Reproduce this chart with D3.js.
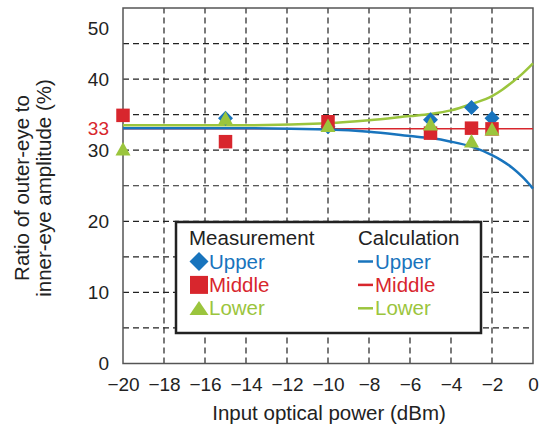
<!DOCTYPE html>
<html>
<head>
<meta charset="utf-8">
<script src="https://cdn.jsdelivr.net/npm/d3@7"></script>
<style>
  body { margin: 0; background: #fff; }
  svg { display: block; font-family: "Liberation Sans", Arial, Helvetica, sans-serif; }
</style>
</head>
<body>
<svg class="graph" width="539" height="426"></svg>
<script>
// tick labels
const xTicks = [-20, -18, -16, -14, -12, -10, -8, -6, -4, -2, 0];
const yTicks = [0, 10, 20, 30, 40, 50];
const refValue = 33;

// measured points (input power, dBm)
const measPower = [-20, -15, -10, -5, -3, -2];
const measUpper = [null, 34.5, 33.3, 34.3, 36.0, 34.5];
const measMiddle = [34.9, 31.2, 34.0, 32.4, 33.1, 33.0];
const measLower = [29.9, 34.2, 33.2, 33.4, 31.0, 32.7];

// calculated curves
const calcPower = [-20, -15, -10, -8, -6, -5, -4, -3, -2, -1.5, -1, -0.5, 0];
const calcUpper = [33.1, 33.1, 32.9, 32.6, 32.0, 31.7, 31.2, 30.5, 29.3, 28.5, 27.5, 26.2, 24.6];
const calcMiddle = [33, 33, 33, 33, 33, 33, 33, 33, 33, 33, 33, 33, 33];
const calcLower = [33.5, 33.5, 33.8, 34.2, 34.8, 35.1, 35.6, 36.5, 37.6, 38.5, 39.6, 40.8, 42.2];

const seriesNames = ['Upper', 'Middle', 'Lower'];
const colors = { Upper: '#1874bd', Middle: '#d8262d', Lower: '#9bc53d' };

const svg = d3.select('svg.graph');
const x = d3.scaleLinear().domain([-20, 0]).range([123, 533]);
const y = d3.scaleLinear().domain([0, 50]).range([363.5, 8]);

// marker shapes
const diamond = r => `M0,${-r}L${r},0L0,${r}L${-r},0Z`;
const square = s => `M${-s/2},${-s/2}h${s}v${s}h${-s}Z`;
const triangle = (w, h) => `M0,${-h*2/3}L${w/2},${h/3}L${-w/2},${h/3}Z`;

//// grid
const grid = svg.append('g')
    .attr('stroke', '#222')
    .attr('stroke-width', 1.2)
    .attr('stroke-dasharray', '6,4');
grid.selectAll('line.h').data(d3.range(5, 50, 5))
    .enter().append('line')
    .attr('x1', x(-20)).attr('x2', x(0))
    .attr('y1', d => y(d)).attr('y2', d => y(d));
grid.selectAll('line.v').data(xTicks.filter(d => d > -20 && d < 0))
    .enter().append('line')
    .attr('y1', y(0)).attr('y2', y(50))
    .attr('x1', d => x(d)).attr('x2', d => x(d));

// frame
svg.append('rect')
    .attr('x', x(-20)).attr('y', y(50))
    .attr('width', x(0) - x(-20)).attr('height', y(0) - y(50))
    .attr('fill', 'none').attr('stroke', '#555').attr('stroke-width', 1.5);

//// axes
const xAxis = svg.append('g')
    .attr('transform', `translate(0,${y(0)})`)
    .call(d3.axisBottom(x).tickValues(xTicks).tickSize(0).tickPadding(14));
const yAxis = svg.append('g')
    .attr('transform', `translate(${x(-20)},0)`)
    .call(d3.axisLeft(y).tickValues(yTicks.concat([refValue])).tickSize(0).tickPadding(14));
[xAxis, yAxis].forEach(a => {
    a.select('.domain').remove();
    a.selectAll('text').attr('font-size', 19).attr('fill', '#222')
        .style('font-family', '"Liberation Sans", Arial, sans-serif');
});
yAxis.selectAll('.tick').filter(d => d === refValue).select('text').attr('fill', colors.Middle);
// the top label sits a bit below the frame in the original
yAxis.selectAll('.tick').filter(d => d === 50).select('text').attr('y', 20);

// axis titles
svg.append('text')
    .attr('x', 329).attr('y', 420)
    .attr('text-anchor', 'middle').attr('font-size', 20.5).attr('fill', '#222')
    .text('Input optical power (dBm)');
const yTitle = svg.append('text')
    .attr('transform', 'translate(0,188) rotate(-90)')
    .attr('text-anchor', 'middle').attr('font-size', 20.5).attr('fill', '#222');
yTitle.append('tspan').attr('x', 0).attr('y', 29).text('Ratio of outer-eye to');
yTitle.append('tspan').attr('x', 0).attr('y', 51).text('inner-eye amplitude (%)');

//// calculation curves
const line = d3.line()
    .x((d, i) => x(calcPower[i]))
    .y(d => y(d))
    .curve(d3.curveMonotoneX);
svg.append('path').datum(calcMiddle)
    .attr('d', line).attr('fill', 'none')
    .attr('stroke', colors.Middle).attr('stroke-width', 1.5);
svg.append('path').datum(calcUpper)
    .attr('d', line).attr('fill', 'none')
    .attr('stroke', colors.Upper).attr('stroke-width', 2.5);
svg.append('path').datum(calcLower)
    .attr('d', line).attr('fill', 'none')
    .attr('stroke', colors.Lower).attr('stroke-width', 2.5);

//// measurement markers
const pts = vals => measPower.map((p, i) => ({ p, v: vals[i] })).filter(d => d.v != null);
const drawMarkers = (vals, shape, color) => {
    svg.append('g').selectAll('path').data(pts(vals))
        .enter().append('path')
        .attr('transform', d => `translate(${x(d.p)},${y(d.v)})`)
        .attr('d', shape)
        .attr('fill', color);
};
drawMarkers(measUpper, diamond(7.5), colors.Upper);
drawMarkers(measMiddle, square(13.5), colors.Middle);
drawMarkers(measLower, triangle(15, 13.5), colors.Lower);

//// legend
const legend = svg.append('g');
legend.append('rect')
    .attr('x', 176).attr('y', 222).attr('width', 305).attr('height', 111)
    .attr('fill', '#fff').attr('stroke', '#222').attr('stroke-width', 2.5);
legend.append('text').attr('x', 189).attr('y', 245)
    .attr('font-size', 20.5).attr('fill', '#222').text('Measurement');
legend.append('text').attr('x', 358).attr('y', 245)
    .attr('font-size', 20.5).attr('fill', '#222').text('Calculation');
const legendShapes = [diamond(9.5), square(18), triangle(19, 14)];
seriesNames.forEach((name, i) => {
    const base = 268.5 + i * 23.4;
    legend.append('path')
        .attr('transform', `translate(199,${base - 7 + (i === 2 ? 2 : 0)})`)
        .attr('d', legendShapes[i]).attr('fill', colors[name]);
    legend.append('text').attr('x', 209).attr('y', base)
        .attr('font-size', 20.5).attr('fill', colors[name]).text(name);
    legend.append('line')
        .attr('x1', 358).attr('x2', 373).attr('y1', base - 7).attr('y2', base - 7)
        .attr('stroke', colors[name]).attr('stroke-width', 2.5);
    legend.append('text').attr('x', 375).attr('y', base)
        .attr('font-size', 20.5).attr('fill', colors[name]).text(name);
});
</script>
</body>
</html>
